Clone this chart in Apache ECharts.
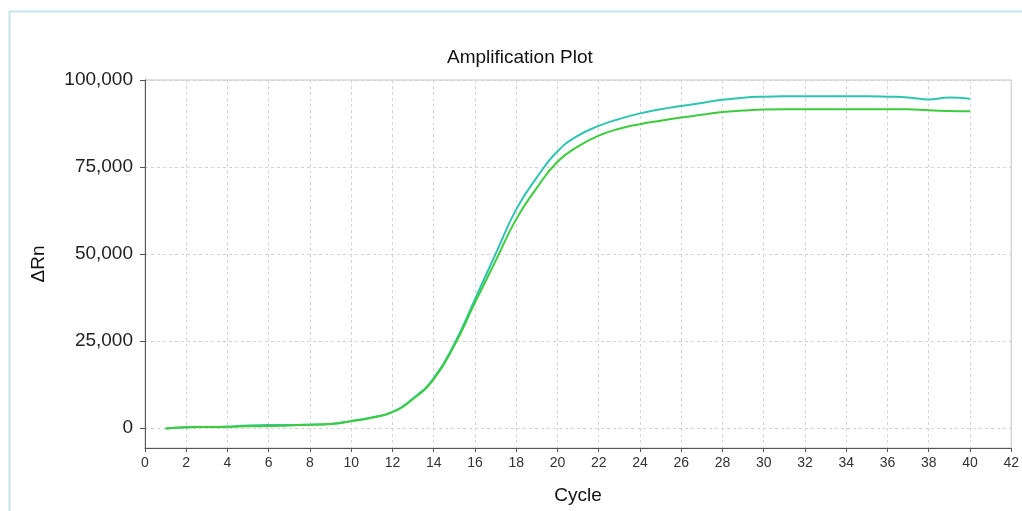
<!DOCTYPE html>
<html>
<head>
<meta charset="utf-8">
<script src="https://cdn.jsdelivr.net/npm/echarts@6/dist/echarts.min.js"></script>
<style>
  html, body { margin: 0; padding: 0; background: #fff; }
  #chart { width: 1022px; height: 511px; }
</style>
</head>
<body>
<div id="chart"></div>
<script>
var cycles = [];
for (var c = 1; c <= 40; c++) cycles.push(c);

var wellA = [-200, 150, 250, 300, 700, 800, 800, 900, 1100, 2000, 3000, 4600, 8500, 14300, 24200, 37000, 50000, 62800, 72000, 79500,
    84000, 86800, 88800, 90400, 91600, 92500, 93400, 94300, 94900, 95200, 95300, 95300, 95300, 95300, 95300, 95200, 95000, 94400, 95000, 94600];
var wellB = [-200, 150, 250, 300, 450, 500, 700, 900, 1100, 1900, 2900, 4500, 8300, 14000, 23700, 36000, 48000, 60000, 69000, 76500,
    80900, 84000, 86000, 87300, 88300, 89200, 90000, 90800, 91200, 91500, 91600, 91600, 91600, 91600, 91600, 91600, 91600, 91300, 91100, 91000];
var yTicks = [0, 25000, 50000, 75000, 100000];

const chart = echarts.init(document.getElementById('chart'));

function pairs(vals) {
    return cycles.map(function (c, i) { return [c, vals[i]]; });
}

var font = 'Liberation Sans, Arial, sans-serif';

chart.setOption({
    animation: false,
    title: {
        text: 'Amplification Plot',
        left: 442,
        top: 43,
        textStyle: { fontFamily: font, fontSize: 19, fontWeight: 'normal', color: '#111' }
    },
    graphic: [{
        type: 'rect',
        shape: { x: 9.5, y: 11.5, width: 1040, height: 520 },
        style: { fill: 'none', stroke: '#c4e4ea', lineWidth: 2 },
        silent: true
    }],
    grid: {
        left: 145,
        right: 8,
        top: 80,
        bottom: 63,
        show: true,
        borderColor: '#c4c4c4',
        borderWidth: 1
    },
    xAxis: {
        type: 'value',
        min: 0,
        max: 42,
        interval: 2,
        name: 'Cycle',
        nameLocation: 'middle',
        nameGap: 38,
        nameTextStyle: { fontFamily: font, fontSize: 19, color: '#111' },
        axisLine: { onZero: false, lineStyle: { color: '#555' } },
        axisTick: { length: 4, lineStyle: { color: '#555' } },
        axisLabel: { fontFamily: font, fontSize: 14, color: '#333', margin: 8 },
        splitLine: { show: true, lineStyle: { color: '#d4d4d4', type: [3, 3] } }
    },
    yAxis: {
        type: 'value',
        min: -5800,
        max: 100000,
        name: 'ΔRn',
        nameLocation: 'middle',
        nameGap: 97,
        nameTextStyle: { fontFamily: font, fontSize: 19, color: '#111' },
        axisLine: { show: true, onZero: false, lineStyle: { color: '#555' } },
        axisTick: { show: true, length: 5, customValues: yTicks, lineStyle: { color: '#555' } },
        axisLabel: {
            fontFamily: font, fontSize: 19, color: '#222', margin: 12,
            customValues: yTicks,
            formatter: function (v) { return v.toLocaleString('en-US'); }
        },
        splitLine: { show: true, customValues: yTicks, lineStyle: { color: '#d4d4d4', type: [3, 3] } }
    },
    series: [
        {
            name: 'A',
            type: 'line',
            data: pairs(wellA),
            smooth: true,
            showSymbol: false,
            lineStyle: { color: '#2fc4b2', width: 2 }
        },
        {
            name: 'B',
            type: 'line',
            data: pairs(wellB),
            smooth: true,
            showSymbol: false,
            lineStyle: { color: '#3dcc3d', width: 2 }
        }
    ]
});
</script>
</body>
</html>
